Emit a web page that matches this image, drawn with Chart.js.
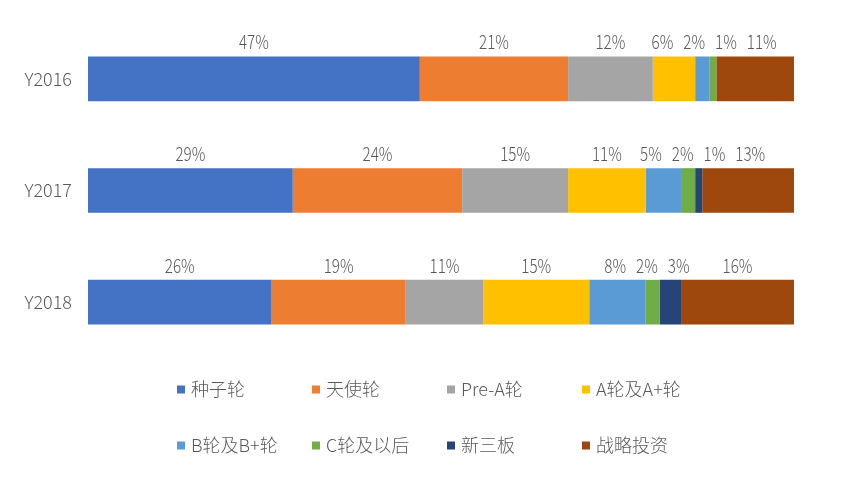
<!DOCTYPE html>
<html>
<head>
<meta charset="utf-8">
<script src="https://cdn.jsdelivr.net/npm/chart.js@4.4.0/dist/chart.umd.min.js"></script>
<style>
html,body{margin:0;padding:0;background:#fff;}
#wrap{width:843px;height:503px;position:relative;}
canvas{display:block;}
</style>
</head>
<body>
<div id="wrap"><canvas id="c" width="843" height="503" style="width:843px;height:503px"></canvas></div>
<script>
const categories = ['Y2016', 'Y2017', 'Y2018'];
const seriesNames = ['种子轮', '天使轮', 'Pre-A轮', 'A轮及A+轮', 'B轮及B+轮', 'C轮及以后', '新三板', '战略投资'];
const seed      = [47, 29, 26];
const angel     = [21, 24, 19];
const preA      = [12, 15, 11];
const roundA    = [6, 11, 15];
const roundB    = [2, 5, 8];
const roundC    = [1, 2, 2];
const neeq      = [0, 1, 3];
const strategic = [11, 13, 16];
const seriesColors = ['#4472C4', '#ED7D31', '#A5A5A5', '#FFC000', '#5B9BD5', '#70AD47', '#264478', '#9E480E'];

const allValues = [seed, angel, preA, roundA, roundB, roundC, neeq, strategic];
const TXT = '#595959';
const FONT = '"Noto Sans CJK SC", "Noto Sans", sans-serif';
const SX = 0.8; // horizontal squeeze for condensed-looking data labels

// 1D cluster-based label de-overlap
function spreadLabels(items, gap) {
  const clusters = [];
  function place(c) {
    const offs = [0];
    for (let k = 1; k < c.items.length; k++) {
      offs.push(offs[k - 1] + (c.items[k - 1].w + c.items[k].w) / 2 + gap);
    }
    let s = 0;
    c.items.forEach((it, k) => { s += it.cx - offs[k]; });
    const base = s / c.items.length;
    c.items.forEach((it, k) => { it.x = base + offs[k]; });
  }
  items.forEach(it => {
    const c = { items: [it] };
    clusters.push(c);
    place(c);
    while (clusters.length > 1) {
      const prev = clusters[clusters.length - 2], cur = clusters[clusters.length - 1];
      const pl = prev.items[prev.items.length - 1], cf = cur.items[0];
      if (cf.x - pl.x < (pl.w + cf.w) / 2 + gap) {
        prev.items = prev.items.concat(cur.items);
        clusters.pop();
        place(prev);
      } else break;
    }
  });
}

const labelPlugin = {
  id: 'segLabels',
  afterDatasetsDraw(chart) {
    const ctx = chart.ctx;
    ctx.save();
    ctx.font = '300 19px ' + FONT;
    ctx.fillStyle = TXT;
    ctx.textAlign = 'center';
    ctx.textBaseline = 'middle';
    categories.forEach((cat, i) => {
      const items = [];
      chart.data.datasets.forEach((ds, d) => {
        const v = ds.data[i];
        if (!v) return;
        const bar = chart.getDatasetMeta(d).data[i];
        const left = Math.min(bar.x, bar.base), right = Math.max(bar.x, bar.base);
        const txt = v + '%';
        const cx = (left + right) / 2;
        items.push({ txt, cx, x: cx, w: ctx.measureText(txt).width * SX, y: bar.y - bar.height / 2 - 14.5 });
      });
      spreadLabels(items, 10);
      items.forEach(it => {
        ctx.save();
        ctx.translate(it.x, it.y);
        ctx.scale(SX, 1);
        ctx.fillText(it.txt, 0, 0);
        ctx.restore();
      });
    });
    ctx.restore();
  }
};

const legendPlugin = {
  id: 'gridLegend',
  afterDraw(chart) {
    const ctx = chart.ctx;
    ctx.save();
    ctx.font = '300 18px ' + FONT;
    ctx.textBaseline = 'middle';
    ctx.textAlign = 'left';
    const startX = 177, colW = 135, rows = [389.5, 445.5], box = 8;
    chart.data.datasets.forEach((ds, d) => {
      const col = d % 4, row = Math.floor(d / 4);
      const x = startX + col * colW, y = rows[row];
      ctx.fillStyle = ds.backgroundColor;
      ctx.fillRect(x, y - box / 2, box, box);
      ctx.fillStyle = TXT;
      ctx.fillText(ds.label, x + 14, y);
    });
    ctx.restore();
  }
};

new Chart(document.getElementById('c'), {
  type: 'bar',
  data: {
    labels: categories,
    datasets: seriesNames.map((name, k) => ({
      label: name,
      data: allValues[k],
      backgroundColor: seriesColors[k],
      borderWidth: 0,
      categoryPercentage: 0.8,
      barPercentage: 0.5
    }))
  },
  options: {
    indexAxis: 'y',
    responsive: false,
    animation: false,
    devicePixelRatio: 1,
    layout: { padding: { left: 0, right: 49, top: 23, bottom: 145 } },
    plugins: { legend: { display: false }, tooltip: { enabled: false } },
    scales: {
      x: { stacked: true, min: 0, max: 100, display: false },
      y: {
        stacked: true,
        grid: { display: false, drawTicks: false },
        border: { display: false },
        ticks: { color: TXT, font: { size: 18, family: FONT, weight: 300 }, padding: 16 },
        afterFit(scale) { scale.width = 88; scale.paddingTop = 0; scale.paddingBottom = 0; }
      }
    }
  },
  plugins: [labelPlugin, legendPlugin]
});
</script>
</body>
</html>
